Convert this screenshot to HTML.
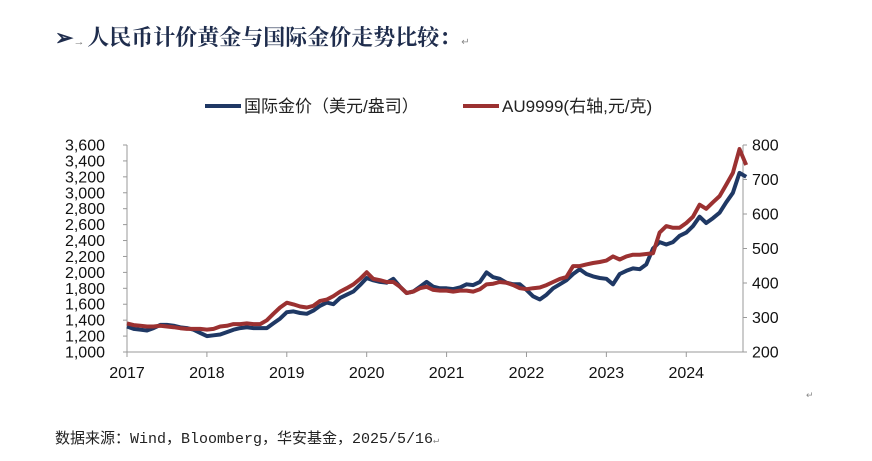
<!DOCTYPE html>
<html><head><meta charset="utf-8"><style>
html,body{margin:0;padding:0;background:#fff;width:872px;height:461px;overflow:hidden}
svg{display:block}
</style></head><body>
<svg id="c" width="872" height="461" xmlns="http://www.w3.org/2000/svg">
<text x="55" y="45" font-family="'Liberation Serif','Noto Serif CJK SC',serif" font-size="22" font-weight="bold" fill="#1f2d4d">➢<tspan font-size="11" fill="#777">→ </tspan>人民币计价黄金与国际金价走势比较：<tspan font-size="10" fill="#888" font-weight="normal">↵</tspan></text>
<g>
<line x1="205" y1="106" x2="241" y2="106" stroke="#1f3864" stroke-width="4"/>
<text x="244" y="112" font-family="'Liberation Sans','Noto Sans CJK SC',sans-serif" font-size="17" fill="#222">国际金价（美元/盎司）</text>
<line x1="463" y1="106" x2="499" y2="106" stroke="#9b3131" stroke-width="4"/>
<text x="502" y="112" font-family="'Liberation Sans','Noto Sans CJK SC',sans-serif" font-size="17" fill="#222">AU9999(右轴,元/克)</text>
</g>
<g id="axes"></g>
<g id="plot"></g>
<text x="806" y="398" font-size="9" fill="#888" font-family="'Liberation Sans',sans-serif">↵</text>
<text x="55" y="443" font-family="'Liberation Mono','Noto Sans CJK SC',monospace" font-size="15" fill="#222">数据来源：Wind，Bloomberg，华安基金，2025/5/16<tspan font-size="10" fill="#888">↵</tspan></text>
</svg>
<script>
const yearTicks=[2017,2018,2019,2020,2021,2022,2023,2024];
const leftTicks=[1000,1200,1400,1600,1800,2000,2200,2400,2600,2800,3000,3200,3400,3600];
const rightTicks=[200,300,400,500,600,700,800];
const startYear=2017;
const usdGold=[1320,1290,1280,1270,1300,1340,1340,1330,1310,1300,1280,1240,
1200,1210,1220,1250,1280,1300,1310,1300,1300,1300,1360,1420,
1500,1510,1490,1480,1520,1580,1620,1600,1680,1720,1760,1840,
1930,1900,1880,1870,1920,1820,1740,1760,1820,1880,1820,1800,
1800,1790,1810,1850,1840,1880,2000,1940,1920,1870,1850,1850,
1780,1700,1660,1720,1800,1850,1900,1980,2040,1980,1950,1930,
1920,1850,1980,2020,2050,2040,2100,2300,2380,2350,2380,2460,
2500,2580,2700,2620,2680,2750,2880,3000,3250,3200];
const au9999=[283,278,276,274,274,276,274,272,269,267,267,267,
265,267,274,276,281,281,283,281,281,292,311,329,
343,338,332,329,334,348,352,362,375,385,396,412,
431,412,408,403,403,389,371,375,385,389,380,378,
378,375,378,378,375,382,396,398,403,401,394,385,
382,385,387,394,403,412,417,449,449,454,458,461,
465,477,468,477,482,482,484,486,546,565,560,560,
574,592,627,615,634,652,685,719,788,742];
const X0=127,X1=743,YT=145,YB=352;
const xs=y=>X0+(y-2017)*(X1-X0)/7.71;
const yL=v=>YB-(v-1000)*(YB-YT)/2600;
const yR=v=>YB-(v-200)*(YB-YT)/600;
const NS="http://www.w3.org/2000/svg";
const ax=document.getElementById('axes'),pl=document.getElementById('plot');
function mk(tag,attrs,parent){const e=document.createElementNS(NS,tag);for(const k in attrs)e.setAttribute(k,attrs[k]);parent.appendChild(e);return e;}
const f="'Liberation Sans',sans-serif";
let e=mk('line',{x1:X0,y1:YT,x2:X0,y2:YB,stroke:'#999'},ax);


e=mk('line',{x1:X1,y1:YT,x2:X1,y2:YB,stroke:'#999'},ax);


e=mk('line',{x1:X0,y1:YB,x2:X1,y2:YB,stroke:'#999'},ax);


leftTicks.forEach(v=>{const y=yL(v);mk('line',{x1:X0-4,y1:y,x2:X0,y2:y,stroke:'#999'},ax);
const t=mk('text',{x:105,y:y+5.5,'text-anchor':'end','font-family':f,'font-size':16,fill:'#111'},ax);t.textContent=v.toLocaleString('en-US');

});
rightTicks.forEach(v=>{const y=yR(v);mk('line',{x1:X1,y1:y,x2:X1+4,y2:y,stroke:'#999'},ax);
const t=mk('text',{x:752,y:y+5.5,'font-family':f,'font-size':16,fill:'#111'},ax);t.textContent=v;

});
yearTicks.forEach(v=>{const x=xs(v);mk('line',{x1:x,y1:YB,x2:x,y2:YB+5,stroke:'#999'},ax);
const t=mk('text',{x:x,y:378,'text-anchor':'middle','font-family':f,'font-size':16,fill:'#111'},ax);t.textContent=v;

});
function path(arr,yf,color,name){const d=arr.map((v,i)=>(i?'L':'M')+xs(startYear+i/12).toFixed(1)+','+yf(v).toFixed(1)).join('');
const p=mk('path',{d:d,fill:'none',stroke:color,'stroke-width':4,'stroke-linejoin':'round'},pl);

}
path(usdGold,yL,'#1f3864','usd-gold-line');
path(au9999,yR,'#9b3131','au9999-line');
</script>
</body></html>
